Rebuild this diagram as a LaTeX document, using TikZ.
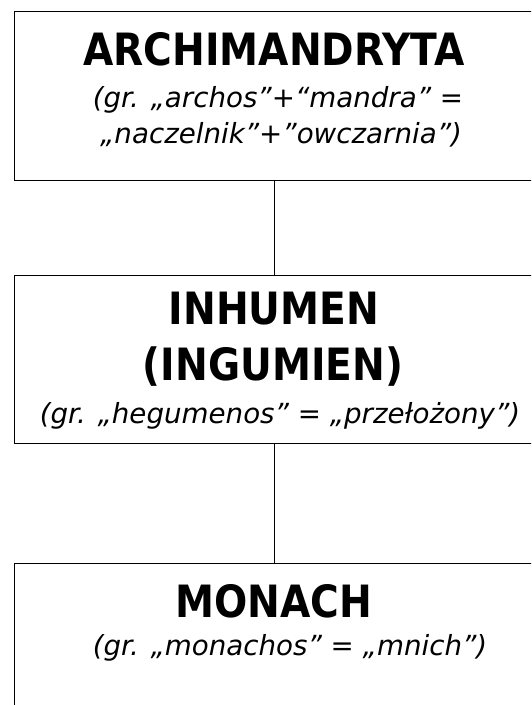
\documentclass[tikz,border=0pt]{standalone}
\usepackage{fontspec}
\setmainfont{DejaVu Sans}[BoldFeatures={FakeStretch=0.88}]
\begin{document}
\begin{tikzpicture}[x=1pt,y=-1pt,
  box/.style={draw=black,line width=1.3pt,rectangle,inner sep=0pt,anchor=north west},
  ttl/.style={anchor=base,inner sep=0pt,font=\fontsize{44.5}{44.5}\selectfont\bfseries},
  sub/.style={anchor=base,inner sep=0pt,font=\fontsize{27.7}{27.7}\selectfont\itshape},
  link/.style={draw=black,line width=1.3pt}]
\useasboundingbox (0,0) rectangle (531,705);
\clip (0,0) rectangle (531,705);
\node[box,minimum width=520pt,minimum height=169pt] (b1) at (14,11) {};
\node[box,minimum width=520pt,minimum height=168pt] (b2) at (14,275) {};
\node[box,minimum width=520pt,minimum height=180pt] (b3) at (14,563) {};
\draw[link] (b1.south) -- (b2.north);
\draw[link] (b2.south) -- (b3.north);
\node[ttl] (t1) at (274,65) {ARCHIMANDRYTA};
\node[sub] (s1a) at (278,107) {(gr. „archos”+“mandra” =};
\node[sub] (s1b) at (281,143) {„naczelnik"+"owczarnia")};
\node[ttl] (t2a) at (274,324) {INHUMEN};
\node[ttl] (t2b) at (273,380) {(INGUMIEN)};
\node[sub] (s2) at (280,423) {(gr. „hegumenos” = „przełożony”)};
\node[ttl] (t3) at (274,617) {MONACH};
\node[sub] (s3) at (290,655) {(gr. „monachos” = „mnich”)};
\end{tikzpicture}
\end{document}
